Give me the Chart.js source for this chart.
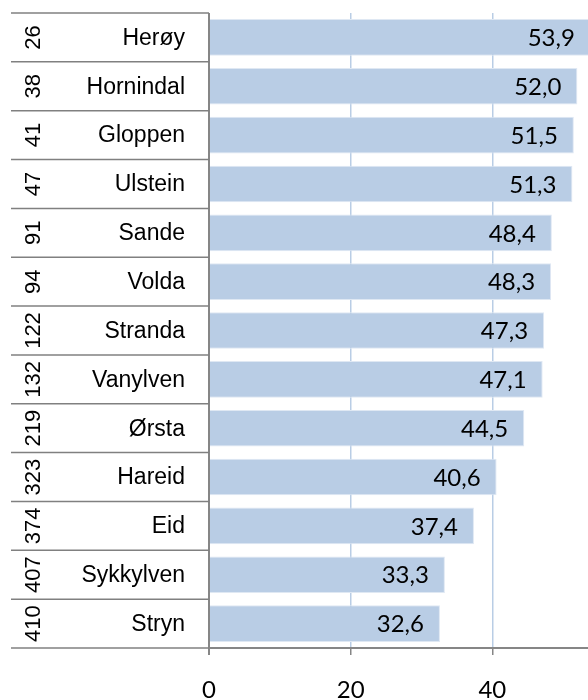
<!DOCTYPE html>
<html><head><meta charset="utf-8">
<script src="https://cdn.jsdelivr.net/npm/chart.js@4"></script>
<style>html,body{margin:0;padding:0;background:#fff;overflow:hidden}#wrap{position:relative;width:588px;height:700px}</style>
</head><body><div id="wrap"><canvas id="c"></canvas></div>
<script>
const municipalities = ['Herøy','Hornindal','Gloppen','Ulstein','Sande','Volda','Stranda','Vanylven','Ørsta','Hareid','Eid','Sykkylven','Stryn'];
const ranks = ['26','38','41','47','91','94','122','132','219','323','374','407','410'];
const values = [53.9,52.0,51.5,51.3,48.4,48.3,47.3,47.1,44.5,40.6,37.4,33.3,32.6];
const tickValues = [0,20,40];

const tablePlugin = {
  id: 'table',
  afterDraw(chart) {
    const ctx = chart.ctx, area = chart.chartArea, ys = chart.scales.y;
    const n = municipalities.length;
    const rowH = (area.bottom - area.top) / n;
    ctx.save();
    ctx.strokeStyle = '#808080';
    ctx.lineWidth = 1.5;
    for (let i = 0; i <= n; i++) {
      const y = area.top + i * rowH;
      ctx.beginPath(); ctx.moveTo(11, y); ctx.lineTo(area.left, y); ctx.stroke();
    }
    ctx.fillStyle = '#000';
    for (let i = 0; i < n; i++) {
      const cy = ys.getPixelForValue(i);
      ctx.font = '23px "Liberation Sans", Arial, sans-serif';
      ctx.textAlign = 'right'; ctx.textBaseline = 'middle';
      ctx.fillText(municipalities[i], 185, cy + 1);
      ctx.save();
      ctx.translate(34, cy);
      ctx.rotate(-Math.PI / 2);
      ctx.font = '22px "Liberation Sans", Arial, sans-serif';
      ctx.textAlign = 'center'; ctx.textBaseline = 'middle';
      ctx.fillText(ranks[i], 0, 0);
      ctx.restore();
    }
    // data labels
    const meta = chart.getDatasetMeta(0);
    ctx.font = '24px Lato, "Open Sans", sans-serif';
    ctx.textAlign = 'right'; ctx.textBaseline = 'middle';
    meta.data.forEach((bar, i) => {
      ctx.fillText(values[i].toFixed(1).replace('.', ','), bar.x - 16, bar.y + 1);
    });
    ctx.restore();
  }
};

new Chart(document.getElementById('c'), {
  type: 'bar',
  data: {
    labels: municipalities,
    datasets: [{
      data: values,
      backgroundColor: '#b9cde5',
      borderColor: '#dfe8f3',
      borderWidth: 1,
      barPercentage: 0.75,
      categoryPercentage: 1.0
    }]
  },
  options: {
    indexAxis: 'y',
    responsive: true,
    maintainAspectRatio: false,
    animation: false,
    layout: { padding: { left: 209, top: 13, right: 0, bottom: 0 } },
    plugins: { legend: { display: false }, tooltip: { enabled: false } },
    scales: {
      y: { display: false },
      x: {
        min: 0, max: 53.5,
        afterBuildTicks: s => { s.ticks = tickValues.map(v => ({ value: v })); },
        afterFit: s => { s.height = 52; },
        grid: {
          color: c => c.tick && c.tick.value === 0 ? '#868686' : '#b9cde5',
          lineWidth: c => c.tick && c.tick.value === 0 ? 2 : 1.5,
          tickColor: '#868686',
          tickLength: 7,
          drawTicks: true
        },
        border: { display: true, color: '#868686', width: 2 },
        ticks: {
          padding: 21,
          color: '#000',
          font: { family: 'Lato, "Open Sans", sans-serif', size: 24 },
          callback: v => String(v)
        }
      }
    }
  },
  plugins: [tablePlugin]
});
</script>
</body></html>
